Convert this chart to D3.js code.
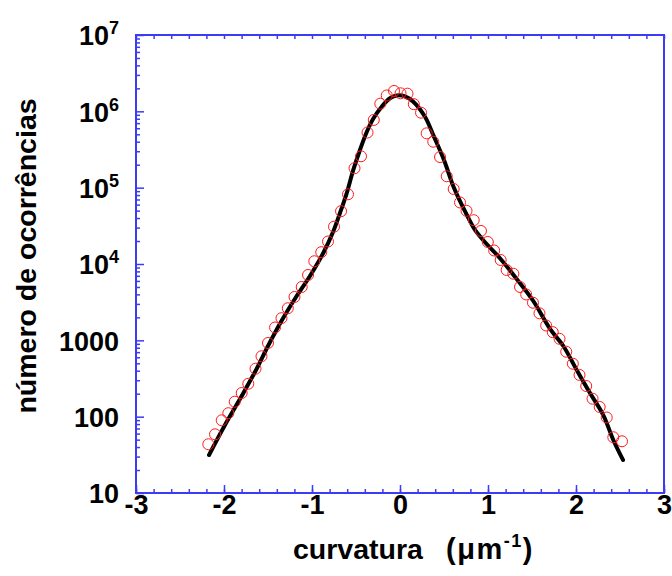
<!DOCTYPE html>
<html><head><meta charset="utf-8">
<script src="https://cdn.jsdelivr.net/npm/d3@7"></script>
<style>body{margin:0;background:#fff}svg{display:block}</style>
</head><body>
<svg id="c" width="672" height="576"></svg>
<script>
// Measured points (curvature, occurrences)
const pointX = [-2.178,-2.102,-2.026,-1.951,-1.878,-1.799,-1.724,-1.642,-1.574,-1.500,-1.420,-1.347,-1.275,-1.199,-1.117,-1.045,-0.974,-0.895,-0.818,-0.750,-0.670,-0.591,-0.517,-0.443,-0.369,-0.298,-0.224,-0.151,-0.068,0.006,0.085,0.157,0.239,0.303,0.378,0.455,0.531,0.610,0.682,0.756,0.838,0.920,0.998,1.070,1.144,1.212,1.288,1.364,1.434,1.511,1.585,1.661,1.736,1.813,1.889,1.964,2.040,2.116,2.188,2.269,2.349,2.424,2.523];
const pointY = [43.5,58.7,89.6,111,157,204,270,425,618,923,1473,1950,2630,3700,5000,7180,10860,14290,19720,30830,49200,81900,179500,257800,528000,771000,1259000,1614000,1849000,1723000,1704000,1241000,960000,515000,400000,252000,141000,96100,64000,49800,37500,27100,19420,15030,11290,8350,7460,5000,3990,3110,2260,1565,1280,1047,710,494,352,252,172,134,97.5,53.7,47.6];
// Fitted curve
const fitX = [-2.170,-1.989,-1.799,-1.642,-1.500,-1.347,-1.174,-1.023,-0.872,-0.761,-0.682,-0.606,-0.531,-0.455,-0.378,-0.303,-0.208,-0.114,-0.034,0.057,0.151,0.284,0.386,0.500,0.614,0.750,0.852,0.977,1.136,1.326,1.515,1.705,1.856,2.008,2.159,2.310,2.424,2.534];
const fitY = [31.5,77.8,186.6,396,843,1792,3810,6970,13930,26250,46600,84400,170600,311800,537000,805000,1151000,1483000,1614000,1566000,1339000,851000,466000,230700,99000,46200,27900,18670,11880,6370,3275,1409,843,409,204,105,49.5,27.1];
// Tick labels
const xTickVals = [-3,-2,-1,0,1,2,3];
const xTickLabels = ["-3","-2","-1","0","1","2","3"];
const yTickVals = [10,100,1000,1e4,1e5,1e6,1e7];
const yTickBase = ["10","100","1000","10","10","10","10"];
const yTickExp = ["","","","4","5","6","7"];
const xLabelMain = "curvatura";
const xLabelUnit = "(\u03bcm";
const xLabelSup = "-1";
const yLabel = "número de ocorrências";

const svg = d3.select("#c");
const L=136,R=664,T=35,B=493;
const x = d3.scaleLinear().domain([-3,3]).range([L,R]);
const y = d3.scaleLog().domain([10,1e7]).range([B,T]);
const blue = "#3c3cf5";
const font = "'Liberation Sans', Arial, sans-serif";

// frame
svg.append("path").attr("d",`M${L},${T}H${R}V${B}H${L}Z`).attr("fill","none").attr("stroke",blue).attr("stroke-width",2);

// bottom / top axis ticks
const xMinor = d3.range(-30,31,2).map(v=>v/10);
svg.append("g").attr("transform",`translate(0,${B})`)
  .call(d3.axisBottom(x).tickValues(xMinor).tickSize(-4).tickFormat(""));
const gb2 = svg.append("g").attr("transform",`translate(0,${B})`)
  .call(d3.axisBottom(x).tickValues(xTickVals).tickSize(-8).tickPadding(18).tickFormat((d,i)=>xTickLabels[i]));
svg.append("g").attr("transform",`translate(0,${T})`)
  .call(d3.axisTop(x).tickValues(xMinor).tickSize(-4).tickFormat(""));
// left axis ticks
const yMinor = [];
for (let e=1;e<7;e++) for (let m=2;m<10;m++) yMinor.push(m*Math.pow(10,e));
svg.append("g").attr("transform",`translate(${L},0)`)
  .call(d3.axisLeft(y).tickValues(yMinor).tickSize(-4).tickFormat(""));
const gl = svg.append("g").attr("transform",`translate(${L},0)`)
  .call(d3.axisLeft(y).tickValues(yTickVals).tickSize(-8).tickFormat(""));
svg.selectAll(".domain").remove();
svg.selectAll(".tick line").attr("stroke",blue).attr("stroke-width",1.5);

gb2.selectAll(".tick text").attr("font-family",font).attr("font-weight","bold").attr("font-size",27).attr("fill","#000").attr("dy","0.1em");

gl.selectAll(".tick").each(function(d,i){
  const t = d3.select(this).append("text").attr("x",-17).attr("dy","0.36em")
    .attr("text-anchor","end").attr("font-family",font).attr("font-weight","bold").attr("font-size",27).attr("fill","#000");
  t.append("tspan").text(yTickBase[i]);
  if (yTickExp[i]) t.append("tspan").attr("dy",-11).attr("font-size",18).text(yTickExp[i]);
});

// curve
const line = d3.line().x((d,i)=>x(fitX[i])).y((d,i)=>y(fitY[i])).curve(d3.curveCatmullRom.alpha(0.5));
svg.append("path").datum(fitX).attr("d",line).attr("fill","none").attr("stroke","#000").attr("stroke-width",4).attr("stroke-linecap","round");

// points
svg.append("g").selectAll("circle").data(pointX).join("circle")
  .attr("cx",(d)=>x(d)).attr("cy",(d,i)=>y(pointY[i])).attr("r",5.5)
  .attr("fill","none").attr("stroke","#ff1a1a").attr("stroke-width",1);

// axis labels
svg.append("text").attr("x",293).attr("y",559)
  .attr("font-family",font).attr("font-weight","bold").attr("font-size",28.5).attr("fill","#000").text(xLabelMain);
const xl = svg.append("text").attr("x",446).attr("y",559).attr("letter-spacing",1.5)
  .attr("font-family",font).attr("font-weight","bold").attr("font-size",29).attr("fill","#000");
xl.append("tspan").text(xLabelUnit);
xl.append("tspan").attr("dy",-12).attr("font-size",18).text(xLabelSup);
xl.append("tspan").attr("dy",12).text(")");

svg.append("text").attr("transform","translate(36,256) rotate(-90)").attr("text-anchor","middle")
  .attr("font-family",font).attr("font-weight","bold").attr("font-size",28.5).attr("fill","#000").text(yLabel);
</script>
</body></html>
